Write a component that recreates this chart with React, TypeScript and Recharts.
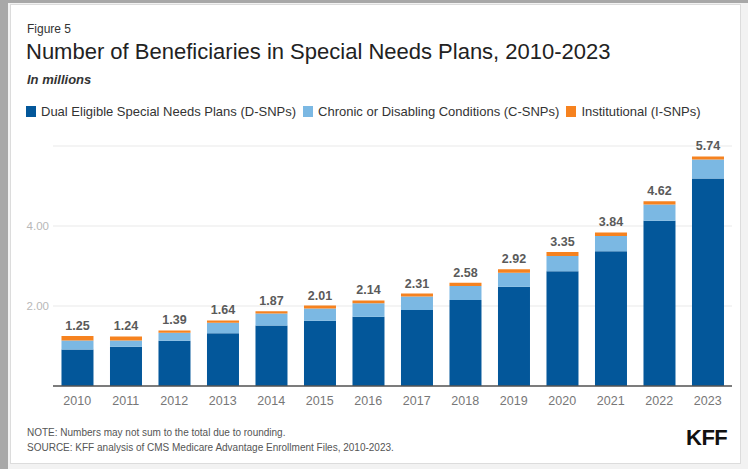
import React from 'react';
import { BarChart, Bar, XAxis, YAxis, CartesianGrid, LabelList } from 'recharts';

const years = ['2010', '2011', '2012', '2013', '2014', '2015', '2016', '2017', '2018', '2019', '2020', '2021', '2022', '2023'];
const dsnp = [0.91, 0.98, 1.13, 1.32, 1.51, 1.63, 1.73, 1.9, 2.15, 2.48, 2.87, 3.37, 4.13, 5.19];
const csnp = [0.23, 0.16, 0.2, 0.26, 0.3, 0.31, 0.34, 0.34, 0.35, 0.35, 0.38, 0.38, 0.41, 0.47];
const isnp = [0.11, 0.1, 0.06, 0.06, 0.06, 0.07, 0.07, 0.07, 0.08, 0.09, 0.1, 0.09, 0.08, 0.08];
const totals = ['1.25', '1.24', '1.39', '1.64', '1.87', '2.01', '2.14', '2.31', '2.58', '2.92', '3.35', '3.84', '4.62', '5.74'];
const yTicks = [2, 4];

const series = [
  { key: 'dsnp', name: 'Dual Eligible Special Needs Plans (D-SNPs)', color: '#03579a' },
  { key: 'csnp', name: 'Chronic or Disabling Conditions (C-SNPs)', color: '#7bb8e3' },
  { key: 'isnp', name: 'Institutional (I-SNPs)', color: '#f6821f' },
];

const data = years.map((year, i) => ({
  year,
  dsnp: dsnp[i],
  csnp: csnp[i],
  isnp: isnp[i],
  total: totals[i],
}));

const font = '"Liberation Sans", Arial, sans-serif';

export default function App() {
  return (
    <div style={{ position: 'absolute', left: 0, top: 0, width: 748, height: 469, background: '#a8a8a8', fontFamily: font }}>
      <div style={{ position: 'absolute', left: 8, top: 3, width: 740, height: 466, background: '#f2f2f2' }} />
      <div style={{ position: 'absolute', left: 10, top: 4, width: 731, height: 460, background: '#fff', border: '1px solid #dcdcdc', boxSizing: 'border-box' }} />

      <div style={{ position: 'absolute', left: 27, top: 22, fontSize: 12, color: '#333' }}>Figure 5</div>
      <div style={{ position: 'absolute', left: 26, top: 39, fontSize: 22, color: '#222', whiteSpace: 'nowrap' }}>
        Number of Beneficiaries in Special Needs Plans, 2010-2023
      </div>
      <div style={{ position: 'absolute', left: 27, top: 72, fontSize: 13, color: '#333', fontWeight: 'bold', fontStyle: 'italic' }}>In millions</div>

      <div style={{ position: 'absolute', left: 26, top: 104, display: 'flex', alignItems: 'center', fontSize: 13, color: '#333', whiteSpace: 'nowrap' }}>
        {series.map((s) => (
          <div key={s.key} style={{ display: 'flex', alignItems: 'center', marginRight: 7 }}>
            <span style={{ display: 'inline-block', width: 10, height: 11, background: s.color, marginRight: 5 }} />
            <span>{s.name}</span>
          </div>
        ))}
      </div>

      <div style={{ position: 'absolute', left: 0, top: 0 }}>
        <BarChart
          width={748}
          height={469}
          data={data}
          margin={{ top: 146, right: 16, left: 8, bottom: 53 }}
          barCategoryGap="17.5%"
        >
          <CartesianGrid vertical={false} stroke="#e9e9e9" />
          <XAxis
            dataKey="year"
            height={30}
            tickLine={false}
            tickSize={0}
            tickMargin={10}
            axisLine={{ stroke: '#555', strokeWidth: 1.5 }}
            tick={{ fill: '#777', fontSize: 12.5, fontFamily: font }}
          />
          <YAxis
            width={45}
            domain={[0, 6]}
            ticks={yTicks}
            axisLine={false}
            tickLine={false}
            tickSize={0}
            tickMargin={4}
            tickFormatter={(v: number) => v.toFixed(2)}
            tick={{ fill: '#b8b8b8', fontSize: 11.5, fontFamily: font }}
          />
          {series.map((s, idx) => (
            <Bar key={s.key} dataKey={s.key} name={s.name} stackId="a" fill={s.color} isAnimationActive={false}>
              {idx === series.length - 1 && (
                <LabelList
                  dataKey="total"
                  position="top"
                  offset={6}
                  fill="#5a5a5a"
                  fontSize={12.5}
                  fontWeight="bold"
                  fontFamily={font}
                />
              )}
            </Bar>
          ))}
        </BarChart>
      </div>

      <div style={{ position: 'absolute', left: 27, top: 425, fontSize: 10, color: '#555', lineHeight: '15px' }}>
        <div>NOTE: Numbers may not sum to the total due to rounding.</div>
        <div>SOURCE: KFF analysis of CMS Medicare Advantage Enrollment Files, 2010-2023.</div>
      </div>
      <div style={{ position: 'absolute', left: 686, top: 425, fontSize: 22, fontWeight: 'bold', color: '#111', letterSpacing: -0.5 }}>KFF</div>
    </div>
  );
}
